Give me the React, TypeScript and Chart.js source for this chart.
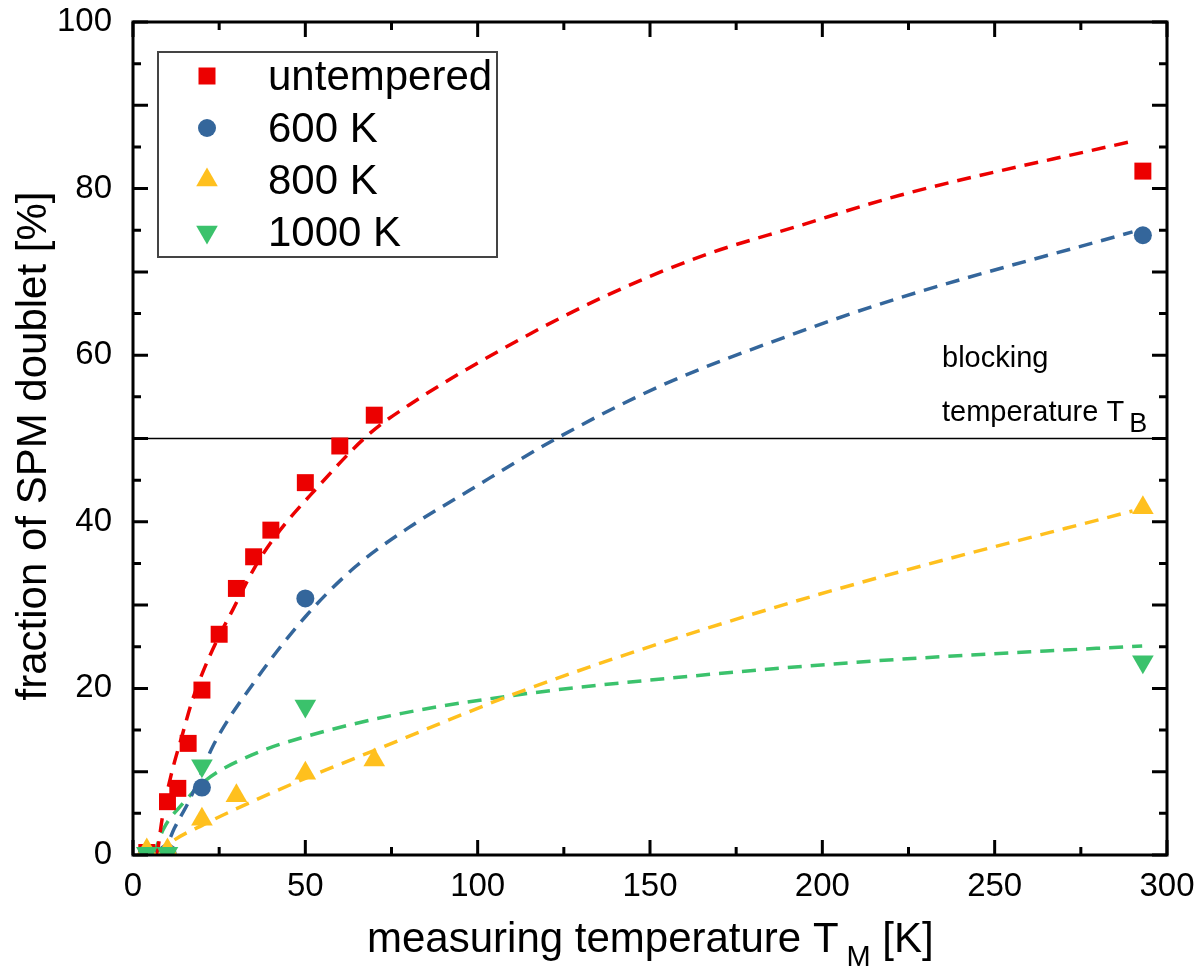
import { useEffect, useRef } from 'react';
import Chart from 'chart.js/auto';

const FONT = '"Liberation Sans", Arial, Helvetica, sans-serif';

// measured points
const untemperedT = [4, 10, 13, 16, 20, 25, 30, 35, 40, 50, 60, 70, 293];
const untemperedFrac = [0.3, 6.4, 8.0, 13.4, 19.8, 26.5, 32.0, 35.8, 39.0, 44.7, 49.1, 52.8, 82.1];

const k600T = [4, 10, 20, 50, 293];
const k600Frac = [0.2, 0.3, 8.1, 30.8, 74.4];

const k800T = [4, 10, 20, 30, 50, 70, 293];
const k800Frac = [0.6, 0.6, 4.3, 7.1, 9.8, 11.4, 41.7];

const k1000T = [4, 10, 20, 50, 293];
const k1000Frac = [0.2, 0.2, 10.7, 17.9, 23.2];

// fitted curves
const untemperedFitT = [7, 8.7, 11, 14.5, 17, 20.2, 25, 28.9, 35, 41.4, 53, 68.4, 80, 107, 136, 165, 193, 222.5, 290];
const untemperedFitFrac = [0, 5, 9.5, 14.7, 18.3, 21.9, 26.3, 29.4, 34.3, 38.3, 43.9, 50.5, 54.0, 60.7, 66.9, 71.9, 75.5, 79.2, 85.7];

const k600FitT = [7, 9.6, 12, 16.4, 20, 23.1, 35.6, 50, 64.5, 80, 97.3, 123.3, 153, 192.7, 222.5, 290];
const k600FitFrac = [0, 1, 3.2, 6.6, 10, 13, 21, 28.6, 34.6, 39.3, 43.7, 50.1, 56.3, 62.7, 66.9, 74.8];

const k800FitT = [7, 10.6, 21.2, 35.6, 50, 70.3, 78, 109.8, 145.5, 191.7, 222.5, 290];
const k800FitFrac = [0, 1.4, 3.8, 6.6, 9.2, 12.6, 13.9, 19.2, 24.4, 30.4, 34.0, 41.3];

const k1000FitT = [6, 8.7, 14.5, 21.2, 35.6, 50, 78, 116.6, 155, 193, 222.5, 292.8];
const k1000FitFrac = [0, 3, 6.2, 9, 12.2, 14.2, 17, 19.5, 21.2, 22.6, 23.5, 25.1];

const blockingT = [0, 300];
const blockingFrac = [50, 50];

const xMajorTicks = [0, 50, 100, 150, 200, 250, 300];
const xMinorTicks = [25, 75, 125, 175, 225, 275];
const yLabelTicks = [0, 20, 40, 60, 80, 100];
const yMajorTicks = [0, 10, 20, 30, 40, 50, 60, 70, 80, 90, 100];
const yMinorTicks = [5, 15, 25, 35, 45, 55, 65, 75, 85, 95];

const legendLabels = ['untempered', '600 K', '800 K', '1000 K'];

const RED = '#ec0000';
const BLUE = '#34669b';
const YELLOW = '#ffc01e';
const GREEN = '#3bc26c';

const toXY = (xs: number[], ys: number[]) => xs.map((x, i) => ({ x, y: ys[i] }));

const drawMarker = (ctx: CanvasRenderingContext2D, kind: string, x: number, y: number, color: string) => {
  ctx.fillStyle = color;
  ctx.beginPath();
  if (kind === 'rect') {
    ctx.rect(x - 8.5, y - 8.5, 17, 17);
  } else if (kind === 'circle') {
    ctx.arc(x, y, 9, 0, Math.PI * 2);
  } else if (kind === 'up') {
    ctx.moveTo(x, y - 12.5);
    ctx.lineTo(x + 10.8, y + 6.25);
    ctx.lineTo(x - 10.8, y + 6.25);
  } else {
    ctx.moveTo(x, y + 12.5);
    ctx.lineTo(x + 10.8, y - 6.25);
    ctx.lineTo(x - 10.8, y - 6.25);
  }
  ctx.closePath();
  ctx.fill();
};

const decorPlugin = {
  id: 'decor',
  afterDraw(chart: any) {
    const { ctx, chartArea } = chart;
    const { left, right, top, bottom } = chartArea;
    const xs = chart.scales.x;
    const ys = chart.scales.y;
    ctx.save();

    // frame
    ctx.strokeStyle = '#000';
    ctx.lineWidth = 3;
    ctx.strokeRect(left, top, right - left, bottom - top);

    // inward ticks on all four sides
    ctx.beginPath();
    const xt = (v: number, len: number) => {
      const px = xs.getPixelForValue(v);
      ctx.moveTo(px, bottom);
      ctx.lineTo(px, bottom - len);
      ctx.moveTo(px, top);
      ctx.lineTo(px, top + len);
    };
    const yt = (v: number, len: number) => {
      const py = ys.getPixelForValue(v);
      ctx.moveTo(left, py);
      ctx.lineTo(left + len, py);
      ctx.moveTo(right, py);
      ctx.lineTo(right - len, py);
    };
    xMajorTicks.forEach((v) => xt(v, 15));
    xMinorTicks.forEach((v) => xt(v, 8));
    yMajorTicks.forEach((v) => yt(v, 15));
    yMinorTicks.forEach((v) => yt(v, 8));
    ctx.stroke();

    // legend
    const lx = left + 25;
    const ly = top + 30;
    ctx.lineWidth = 2;
    ctx.strokeStyle = '#444';
    ctx.strokeRect(lx, ly, 339, 205);
    const kinds = ['rect', 'circle', 'up', 'down'];
    const colors = [RED, BLUE, YELLOW, GREEN];
    ctx.font = `42px ${FONT}`;
    ctx.textAlign = 'left';
    ctx.textBaseline = 'middle';
    legendLabels.forEach((label, i) => {
      const rowY = ly + 24 + i * 52;
      drawMarker(ctx, kinds[i], lx + 49, rowY, colors[i]);
      ctx.fillStyle = '#000';
      ctx.fillText(label, lx + 110, rowY + 2);
    });

    // axis titles
    ctx.fillStyle = '#000';
    ctx.textBaseline = 'alphabetic';
    ctx.save();
    ctx.translate(46, 446);
    ctx.rotate(-Math.PI / 2);
    ctx.textAlign = 'center';
    ctx.font = `42px ${FONT}`;
    ctx.fillText('fraction of SPM doublet [%]', 0, 0);
    ctx.restore();

    ctx.textAlign = 'left';
    ctx.font = `42px ${FONT}`;
    let tx = 367;
    const main = 'measuring temperature T';
    ctx.fillText(main, tx, 952);
    tx += ctx.measureText(main).width + 8;
    ctx.font = `29px ${FONT}`;
    ctx.fillText('M', tx, 966);
    tx += ctx.measureText('M').width;
    ctx.font = `42px ${FONT}`;
    ctx.fillText(' [K]', tx, 952);

    // blocking temperature note
    ctx.font = `29px ${FONT}`;
    ctx.fillText('blocking', 942, 367);
    ctx.fillText('temperature T', 942, 421);
    const bx = 942 + ctx.measureText('temperature T').width + 5;
    ctx.font = `27px ${FONT}`;
    ctx.fillText('B', bx, 432);

    ctx.restore();
  },
};

const markerSet = (label: string, xs: number[], ys: number[], color: string, style: string, radius: number, rotation = 0) => ({
  label,
  data: toXY(xs, ys),
  showLine: false,
  pointStyle: style,
  pointRadius: radius,
  pointRotation: rotation,
  pointBackgroundColor: color,
  pointBorderColor: color,
  pointBorderWidth: 0,
  backgroundColor: color,
  borderColor: color,
});

const fitSet = (xs: number[], ys: number[], color: string) => ({
  label: 'fit',
  data: toXY(xs, ys),
  showLine: true,
  borderColor: color,
  borderWidth: 3.5,
  borderDash: [14, 9],
  pointRadius: 0,
  cubicInterpolationMode: 'monotone' as const,
  fill: false,
});

const noPadding = (scale: any) => {
  scale.paddingTop = 0;
  scale.paddingBottom = 0;
  scale.paddingLeft = 0;
  scale.paddingRight = 0;
};

const App = () => {
  const canvasRef = useRef<HTMLCanvasElement | null>(null);
  const chartRef = useRef<Chart | null>(null);

  useEffect(() => {
    document.body.style.margin = '0';
    if (!canvasRef.current) return;
    const ctx = canvasRef.current.getContext('2d');
    if (!ctx) return;
    if (chartRef.current) chartRef.current.destroy();

    chartRef.current = new Chart(ctx, {
      type: 'scatter',
      data: {
        datasets: [
          markerSet('1000 K', k1000T, k1000Frac, GREEN, 'triangle', 12.5, 180),
          markerSet('800 K', k800T, k800Frac, YELLOW, 'triangle', 12.5),
          markerSet('600 K', k600T, k600Frac, BLUE, 'circle', 9),
          markerSet('untempered', untemperedT, untemperedFrac, RED, 'rect', 12),
          fitSet(untemperedFitT, untemperedFitFrac, RED),
          fitSet(k600FitT, k600FitFrac, BLUE),
          fitSet(k800FitT, k800FitFrac, YELLOW),
          fitSet(k1000FitT, k1000FitFrac, GREEN),
          {
            label: 'blocking',
            data: toXY(blockingT, blockingFrac),
            showLine: true,
            borderColor: '#000',
            borderWidth: 1.5,
            pointRadius: 0,
          },
        ] as any,
      },
      options: {
        animation: false,
        responsive: true,
        maintainAspectRatio: false,
        layout: { padding: { top: 22, right: 33, left: 0, bottom: 0 } },
        plugins: {
          legend: { display: false },
          tooltip: { enabled: false },
          title: { display: false },
        },
        scales: {
          x: {
            type: 'linear',
            min: 0,
            max: 300,
            afterFit: (scale: any) => {
              scale.height = 116;
              noPadding(scale);
            },
            afterBuildTicks: (scale: any) => {
              scale.ticks = xMajorTicks.map((value) => ({ value }));
            },
            grid: { display: false, drawTicks: false },
            border: { display: false },
            ticks: {
              autoSkip: false,
              maxRotation: 0,
              padding: 12,
              color: '#000',
              font: { family: FONT, size: 33 },
            },
          },
          y: {
            type: 'linear',
            min: 0,
            max: 100,
            afterFit: (scale: any) => {
              scale.width = 133;
              noPadding(scale);
            },
            afterBuildTicks: (scale: any) => {
              scale.ticks = yLabelTicks.map((value) => ({ value }));
            },
            grid: { display: false, drawTicks: false },
            border: { display: false },
            ticks: {
              padding: 21,
              color: '#000',
              font: { family: FONT, size: 33 },
            },
          },
        },
      },
      plugins: [decorPlugin],
    });

    return () => {
      if (chartRef.current) {
        chartRef.current.destroy();
        chartRef.current = null;
      }
    };
  }, []);

  return (
    <div style={{ width: '1200px', height: '971px', position: 'relative', background: '#fff' }}>
      <canvas ref={canvasRef} />
    </div>
  );
};

export default App;
